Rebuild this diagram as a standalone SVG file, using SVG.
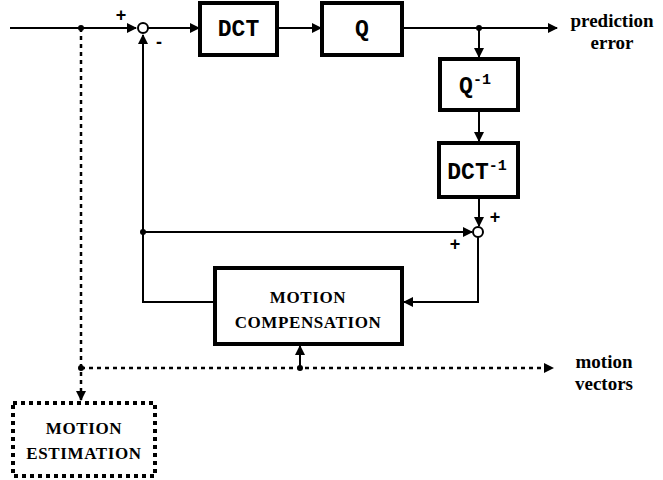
<svg xmlns="http://www.w3.org/2000/svg" width="663" height="480" viewBox="0 0 663 480">
<style>
.box{fill:#fff;stroke:#000;stroke-width:4}
.dbox{fill:#fff;stroke:#000;stroke-width:4;stroke-dasharray:4 4}
.ln{fill:none;stroke:#000;stroke-width:2}
.dl{fill:none;stroke:#000;stroke-width:2.5;stroke-dasharray:4 4}
.mono{font-family:"Liberation Mono",monospace;font-size:23px;font-weight:bold;text-anchor:middle}
.lbl{font-family:"Liberation Serif",serif;font-size:17px;font-weight:bold;text-anchor:middle;letter-spacing:0.6px}
.out{font-family:"Liberation Serif",serif;font-size:19px;font-weight:bold;text-anchor:middle}
.sgn{font-family:"Liberation Sans",sans-serif;font-size:18px;font-weight:bold;text-anchor:middle}
.sum{fill:#fff;stroke:#000;stroke-width:2}
</style>
<defs>
<marker id="ah" markerWidth="10" markerHeight="10" refX="9" refY="5" orient="auto" markerUnits="userSpaceOnUse">
<path d="M0,0 L10,5 L0,10 Z" fill="#000"/>
</marker>
</defs>
<g id="connectors">
<path class="ln" d="M10,28 H136" marker-end="url(#ah)"/>
<path class="ln" d="M148,28 H199" marker-end="url(#ah)"/>
<path class="ln" d="M277,28 H321" marker-end="url(#ah)"/>
<path class="ln" d="M402,28 H557" marker-end="url(#ah)"/>
<path class="ln" d="M479,28 V57" marker-end="url(#ah)"/>
<path class="ln" d="M479,110 V141" marker-end="url(#ah)"/>
<path class="ln" d="M479,197 V226" marker-end="url(#ah)"/>
<path class="ln" d="M143,232 H472" marker-end="url(#ah)"/>
<path class="ln" d="M478,237 V302 H404" marker-end="url(#ah)"/>
<path class="ln" d="M214,302 H143 V35" marker-end="url(#ah)"/>
<circle cx="81" cy="28" r="3"/>
<circle cx="479" cy="28" r="3"/>
<circle cx="143" cy="232" r="3"/>
<path class="dl" d="M81,28 V400" marker-end="url(#ah)"/>
<path class="dl" d="M81,368 H553" marker-end="url(#ah)"/>
<circle cx="81" cy="368" r="3"/>
<circle cx="300" cy="368" r="3"/>
<path class="ln" d="M300,366 V346" marker-end="url(#ah)"/>
<circle class="sum" cx="143" cy="28" r="5"/>
<circle class="sum" cx="478" cy="232" r="5"/>
</g>
<g id="signs">
<text class="sgn" x="121" y="21">+</text>
<text class="sgn" x="159" y="48">-</text>
<text class="sgn" x="495" y="223">+</text>
<text class="sgn" x="455" y="250">+</text>
</g>
<g id="dct"><rect class="box" x="200" y="3" width="77" height="52"/><text class="mono" x="238.5" y="36">DCT</text></g>
<g id="q"><rect class="box" x="322" y="3" width="80" height="52"/><text class="mono" x="362" y="36">Q</text></g>
<g id="qinv"><rect class="box" x="440" y="59" width="78" height="51"/><text class="mono" x="475" y="93">Q<tspan font-size="15" dy="-9">-1</tspan></text></g>
<g id="dctinv"><rect class="box" x="439" y="143" width="79" height="54"/><text class="mono" x="477" y="179">DCT<tspan font-size="15" dy="-9">-1</tspan></text></g>
<g id="mc"><rect class="box" x="215" y="268" width="187" height="76"/><text class="lbl" x="308" y="303">MOTION</text><text class="lbl" x="308" y="328">COMPENSATION</text></g>
<g id="me"><rect class="dbox" x="13" y="403" width="142" height="73"/><text class="lbl" x="84" y="434">MOTION</text><text class="lbl" x="84" y="459">ESTIMATION</text></g>
<g id="outputs">
<text class="out" x="612" y="27">prediction</text>
<text class="out" x="612" y="49">error</text>
<text class="out" x="604" y="368">motion</text>
<text class="out" x="604" y="390">vectors</text>
</g>
</svg>
